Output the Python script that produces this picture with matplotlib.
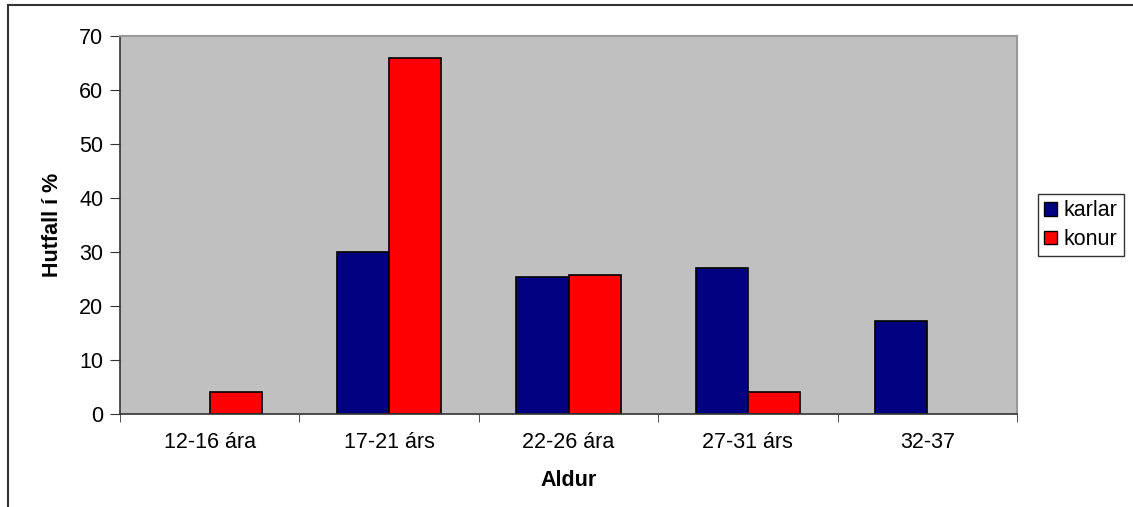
import numpy as np
import matplotlib.pyplot as plt
from matplotlib.patches import Rectangle, Patch

plt.rcParams['font.family'] = ['Liberation Sans', 'DejaVu Sans']

categories = ["12-16 ára", "17-21 árs", "22-26 ára", "27-31 árs", "32-37"]
karlar = [0, 30, 25.4, 27, 17.3]
konur = [4, 66, 25.8, 4, 0]

fs = 15.5
c_karlar = '#000080'
c_konur = '#ff0000'

fig = plt.figure(figsize=(11.33, 5.07), dpi=100)
fig.patches.append(Rectangle((8 / 1133, -0.1), 1.2, (507 - 5) / 507 + 0.1,
                             transform=fig.transFigure, fill=False,
                             edgecolor='#333333', linewidth=1.5))

ax = fig.add_axes([120 / 1133, 93 / 507, 897 / 1133, 378 / 507])
ax.set_facecolor('#c0c0c0')

x = np.arange(len(categories))
w = 0.29
b1 = ax.bar(x - w / 2, karlar, w, color=c_karlar,
            edgecolor='black', linewidth=1.2)
b2 = ax.bar(x + w / 2, konur, w, color=c_konur, edgecolor='black',
            linewidth=1.2)
# empty categories have no bar
for p in list(b1) + list(b2):
    if p.get_height() == 0:
        p.set_visible(False)

ax.set_xlim(-0.5, 4.5)
ax.set_ylim(0, 70)
ax.set_yticks(range(0, 71, 10))
ax.set_xticks(x)
ax.set_xticklabels(categories)
ax.set_xticks(np.arange(-0.5, 5, 1), minor=True)
ax.tick_params(axis='x', which='major', length=0, pad=13, labelsize=fs)
ax.tick_params(axis='x', which='minor', length=6, color='#333333')
ax.tick_params(axis='y', length=7, color='#333333', labelsize=fs, pad=5)

for s in ['top', 'right']:
    ax.spines[s].set_color('#999999')
    ax.spines[s].set_linewidth(1.5)
for s in ['left', 'bottom']:
    ax.spines[s].set_color('#333333')
    ax.spines[s].set_linewidth(1.2)

ax.set_xlabel('Aldur', fontsize=fs, fontweight='bold', labelpad=12)
ax.set_ylabel('Hutfall í %', fontsize=fs, fontweight='bold', labelpad=12)

handles = [Patch(facecolor=c_karlar, edgecolor='black', label='karlar'),
           Patch(facecolor=c_konur, edgecolor='black', label='konur')]
leg = fig.legend(handles=handles, loc='upper left',
                 bbox_to_anchor=(1038 / 1133, (507 - 194) / 507),
                 fontsize=fs, frameon=True, fancybox=False, edgecolor='black',
                 handlelength=0.6, handleheight=0.6, handletextpad=0.3,
                 borderpad=0.3, labelspacing=0.35, borderaxespad=0)
leg.get_frame().set_linewidth(1)

fig.savefig('out.png', dpi=100)
